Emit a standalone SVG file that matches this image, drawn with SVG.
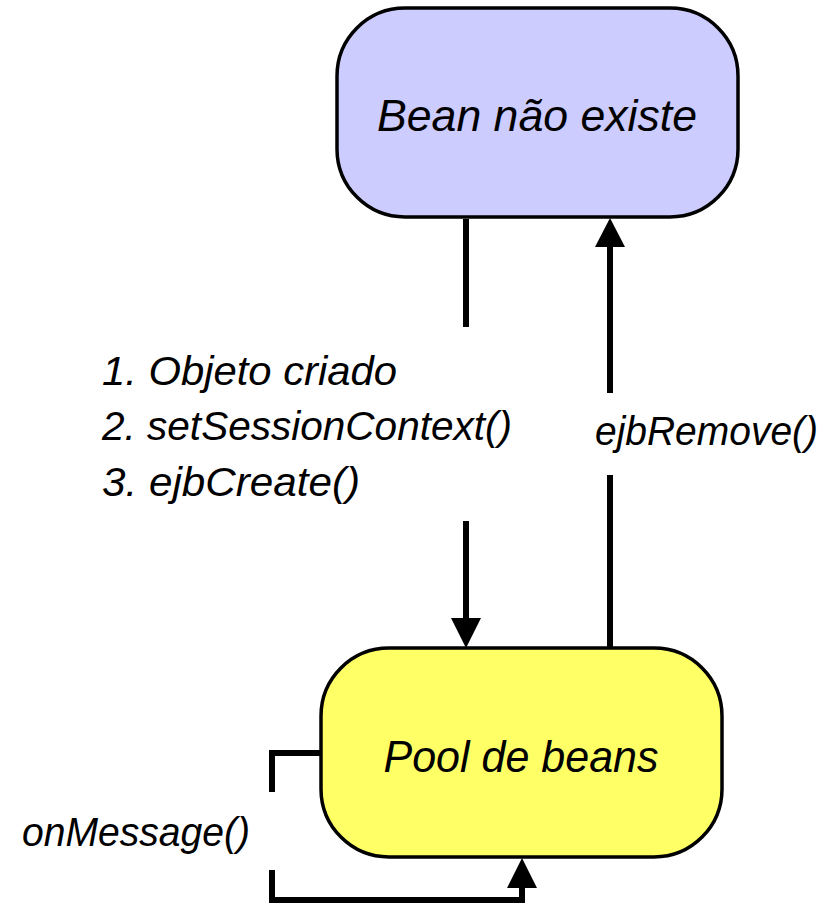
<svg xmlns="http://www.w3.org/2000/svg" width="829" height="905" viewBox="0 0 829 905">
<style>
.box{stroke:#000;stroke-width:3.5}
.lbl{font-family:"Liberation Sans",Arial,sans-serif;font-style:italic;fill:#000}
.big{font-size:44px}
.sm{font-size:40px}
.ln{fill:none;stroke:#000;stroke-width:6}
.ah{fill:#000}
</style>
<rect width="829" height="905" fill="#fff"/>
<g id="node-bean-nao-existe">
<rect class="box" x="337" y="8" width="401" height="209" rx="68" ry="68" fill="#CCCCFF"/>
<text class="lbl big" x="537" y="131" text-anchor="middle" textLength="320" lengthAdjust="spacingAndGlyphs">Bean não existe</text>
</g>
<g id="node-pool">
<rect class="box" x="321" y="648" width="401" height="209" rx="68" ry="68" fill="#FFFF66"/>
<text class="lbl big" x="521" y="772" text-anchor="middle" textLength="275" lengthAdjust="spacingAndGlyphs">Pool de beans</text>
</g>
<g id="connectors">
<path class="ln" d="M466 219 V327 M466 521 V620"/>
<polygon class="ah" points="451,618 481,618 466,648"/>
<path class="ln" d="M610 647 V475 M610 393 V245"/>
<polygon class="ah" points="595,247 625,247 610,218"/>
<path class="ln" d="M321 753 H272 V792 M272 870 V900 H522 V886"/>
<polygon class="ah" points="507,888 537,888 522,858"/>
<text class="lbl sm" x="102" y="385" textLength="295" lengthAdjust="spacingAndGlyphs">1. Objeto criado</text>
<text class="lbl sm" x="102" y="440" textLength="410" lengthAdjust="spacingAndGlyphs">2. setSessionContext()</text>
<text class="lbl sm" x="102" y="496" textLength="258" lengthAdjust="spacingAndGlyphs">3. ejbCreate()</text>
<text class="lbl sm" x="595" y="445" textLength="223" lengthAdjust="spacingAndGlyphs">ejbRemove()</text>
<text class="lbl sm" x="22" y="846" textLength="228" lengthAdjust="spacingAndGlyphs">onMessage()</text>
</g>
</svg>
